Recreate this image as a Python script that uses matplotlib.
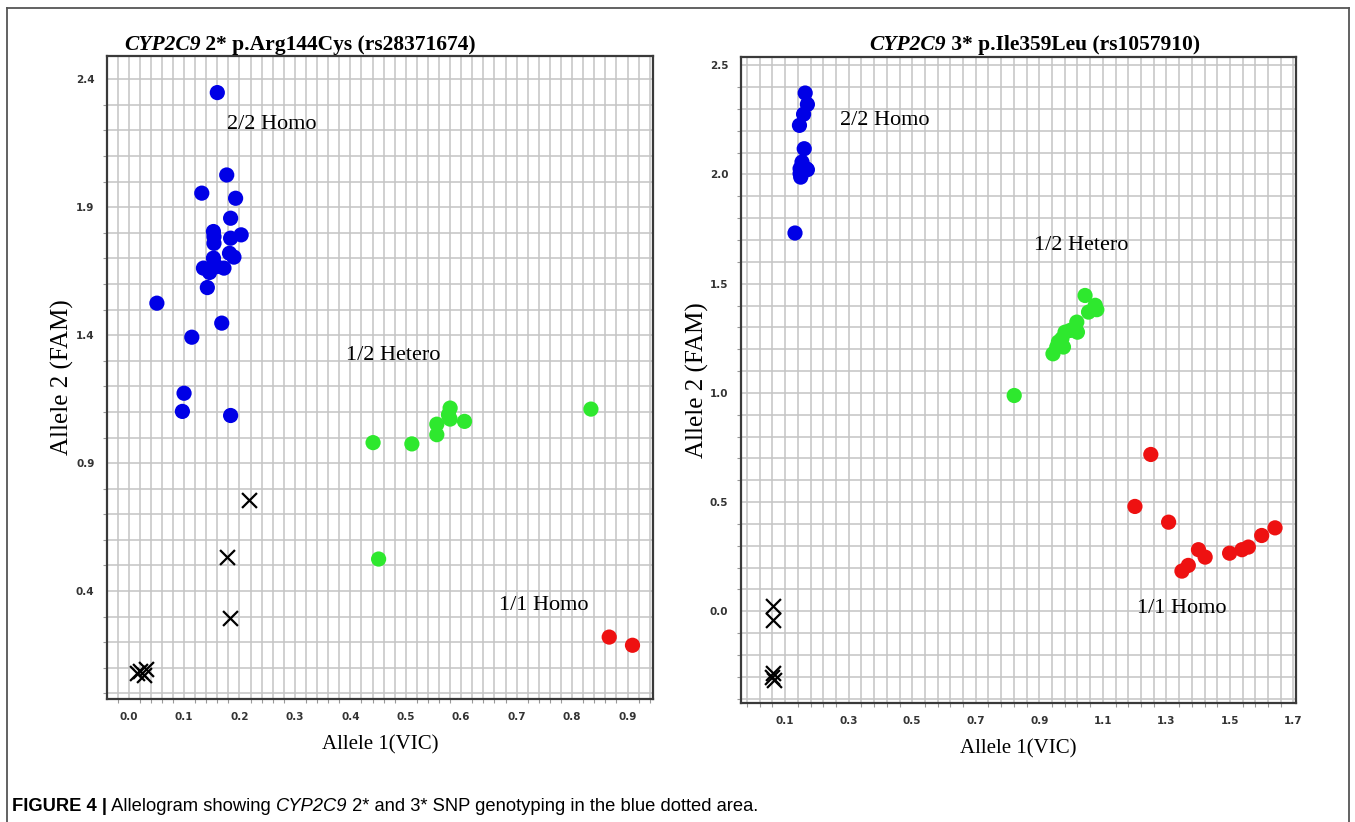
import numpy as np
import matplotlib
matplotlib.use("Agg")
import matplotlib.pyplot as plt
from matplotlib.ticker import FixedLocator, NullFormatter
from matplotlib.lines import Line2D

# ---- CYP2C9 2* (rs28371674) ----
l_hom2_x = [0.160, 0.177, 0.132, 0.193, 0.184, 0.153, 0.154, 0.154, 0.184, 0.203,
            0.182, 0.190, 0.153, 0.135, 0.146, 0.159, 0.172, 0.142, 0.051, 0.168,
            0.114, 0.100, 0.097, 0.184]
l_hom2_y = [2.348, 2.026, 1.955, 1.935, 1.857, 1.805, 1.785, 1.759, 1.779, 1.792,
            1.720, 1.705, 1.701, 1.662, 1.645, 1.668, 1.662, 1.586, 1.525, 1.447,
            1.392, 1.173, 1.102, 1.086]
l_het_x = [0.441, 0.511, 0.556, 0.556, 0.580, 0.577, 0.580, 0.606, 0.834, 0.451]
l_het_y = [0.980, 0.975, 1.011, 1.052, 1.115, 1.089, 1.072, 1.063, 1.111, 0.525]
l_hom1_x = [0.867, 0.909]
l_hom1_y = [0.220, 0.188]
l_undet_x = [0.218, 0.177, 0.183, 0.021, 0.032, 0.027, 0.016]
l_undet_y = [0.754, 0.533, 0.295, 0.086, 0.095, 0.073, 0.080]

# ---- CYP2C9 3* (rs1057910) ----
r_hom2_x = [0.163, 0.170, 0.158, 0.145, 0.160, 0.153, 0.147, 0.166, 0.147, 0.170,
            0.149, 0.131]
r_hom2_y = [2.373, 2.321, 2.276, 2.225, 2.118, 2.057, 2.027, 2.027, 2.004, 2.022,
            1.988, 1.732]
r_het_x = [1.044, 1.076, 1.081, 1.055, 1.018, 0.997, 1.020, 0.981, 0.971, 0.960,
           0.976, 0.955, 0.943, 0.821]
r_het_y = [1.446, 1.401, 1.381, 1.370, 1.324, 1.286, 1.278, 1.278, 1.248, 1.233,
           1.210, 1.210, 1.179, 0.988]
r_hom1_x = [1.251, 1.201, 1.307, 1.401, 1.422, 1.369, 1.349, 1.499, 1.538, 1.558,
            1.600, 1.642]
r_hom1_y = [0.718, 0.480, 0.408, 0.282, 0.248, 0.210, 0.184, 0.266, 0.282, 0.294,
            0.347, 0.382]
r_undet_x = [0.063, 0.063, 0.063, 0.058, 0.066]
r_undet_y = [0.022, -0.039, -0.284, -0.302, -0.314]

BLUE = "#0000e6"
GREEN = "#2ee82e"
RED = "#ee1111"
SERIF = "Liberation Serif"

W, H = 1355, 822
fig = plt.figure(figsize=(W / 100, H / 100), dpi=100)

# outer frame of the figure panel
for xs, ys in [((7, 1349), (8, 8)), ((7, 7), (8, 830)), ((1349, 1349), (8, 830))]:
    fig.add_artist(Line2D([x / W for x in xs], [1 - y / H for y in ys],
                          color="#555555", lw=1.3))


def px_box(x0, x1, y0, y1):
    return [x0 / W, 1 - y1 / H, (x1 - x0) / W, (y1 - y0) / H]


def setup_axes(ax, xlim, ylim, xticks, yticks, xgrid, ygrid):
    ax.set_xlim(*xlim)
    ax.set_ylim(*ylim)
    ax.xaxis.set_major_locator(FixedLocator(xticks))
    ax.yaxis.set_major_locator(FixedLocator(yticks))
    ax.xaxis.set_minor_locator(FixedLocator(xgrid))
    ax.yaxis.set_minor_locator(FixedLocator(ygrid))
    ax.xaxis.set_minor_formatter(NullFormatter())
    ax.set_xticklabels(["%.1f" % t for t in xticks])
    ax.set_yticklabels(["%.1f" % t for t in yticks])
    for v in xgrid:
        ax.axvline(v, color="#c4c4c4", lw=1.1, zorder=0)
    for v in ygrid:
        ax.axhline(v, color="#c4c4c4", lw=1.1, zorder=0)
    ax.tick_params(which="both", direction="out", color="#9a9a9a")
    ax.tick_params(which="major", length=0, labelsize=7.5, labelcolor="#333333")
    ax.tick_params(which="minor", length=3, width=0.8)
    ax.tick_params(axis="x", pad=9)
    ax.tick_params(axis="y", pad=9)
    for lab in ax.get_xticklabels() + ax.get_yticklabels():
        lab.set_fontweight("bold")
    for s in ax.spines.values():
        s.set_color("#3a3a3a")
        s.set_linewidth(1.6)
    ax.set_xlabel("Allele 1(VIC)", family=SERIF, fontsize=15, labelpad=10)
    ax.set_ylabel("Allele 2 (FAM)", family=SERIF, fontsize=18, labelpad=1)


def draw_groups(ax, groups, undet):
    for xs, ys, c in groups:
        ax.scatter(xs, ys, s=120, color=c, edgecolors="none", zorder=3)
    ax.scatter(undet[0], undet[1], s=115, marker="x", color="black",
               linewidths=1.6, zorder=3)


# left panel
axl = fig.add_axes(px_box(107, 653, 56, 699))
setup_axes(axl, (-0.039, 0.946), (-0.022, 2.491),
           np.round(np.arange(0.0, 0.95, 0.1), 1), [0.4, 0.9, 1.4, 1.9, 2.4],
           np.arange(-0.02, 0.95, 0.02), np.arange(0.0, 2.45, 0.1))
draw_groups(axl, [(l_hom2_x, l_hom2_y, BLUE), (l_het_x, l_het_y, GREEN),
                  (l_hom1_x, l_hom1_y, RED)], (l_undet_x, l_undet_y))
for x, y, s in [(0.177, 2.225, "2/2 Homo"), (0.393, 1.32, "1/2 Hetero"),
                (0.669, 0.343, "1/1 Homo")]:
    axl.text(x, y, s, family=SERIF, fontsize=16, va="center", ha="left")

# right panel
axr = fig.add_axes(px_box(741, 1296, 57, 703))
setup_axes(axr, (-0.039, 1.708), (-0.42, 2.538),
           [0.1, 0.3, 0.5, 0.7, 0.9, 1.1, 1.3, 1.5, 1.7],
           [0.0, 0.5, 1.0, 1.5, 2.0, 2.5],
           np.arange(-0.02, 1.71, 0.04), np.arange(-0.4, 2.55, 0.1))
draw_groups(axr, [(r_hom2_x, r_hom2_y, BLUE), (r_het_x, r_het_y, GREEN),
                  (r_hom1_x, r_hom1_y, RED)], (r_undet_x, r_undet_y))
for x, y, s in [(0.273, 2.248, "2/2 Homo"), (0.884, 1.675, "1/2 Hetero"),
                (1.207, 0.011, "1/1 Homo")]:
    axr.text(x, y, s, family=SERIF, fontsize=16, va="center", ha="left")

renderer = fig.canvas.get_renderer()


def rich_line(xc, y, parts, family, size, center=True):
    # place text runs one after another on a single baseline
    texts = []
    for s, style, weight in parts:
        texts.append(fig.text(0, 1 - y / H, s, family=family, fontsize=size,
                              fontstyle=style, fontweight=weight, va="baseline"))
    widths = [t.get_window_extent(renderer).width for t in texts]
    pos = xc - sum(widths) / 2 if center else xc
    for t, w in zip(texts, widths):
        t.set_x(pos / W)
        pos += w


rich_line(300, 50, [("CYP2C9", "italic", "bold"),
                    (" 2* p.Arg144Cys (rs28371674)", "normal", "bold")], SERIF, 15.5)
rich_line(1035, 50, [("CYP2C9", "italic", "bold"),
                     (" 3* p.Ile359Leu (rs1057910)", "normal", "bold")], SERIF, 15.5)

rich_line(12, 811, [("FIGURE 4 |", "normal", "bold"),
                    (" Allelogram showing ", "normal", "normal"),
                    ("CYP2C9", "italic", "normal"),
                    (" 2* and 3* SNP genotyping in the blue dotted area.", "normal", "normal")],
          "Liberation Sans", 13.2, center=False)

fig.savefig("out.png", dpi=100)
